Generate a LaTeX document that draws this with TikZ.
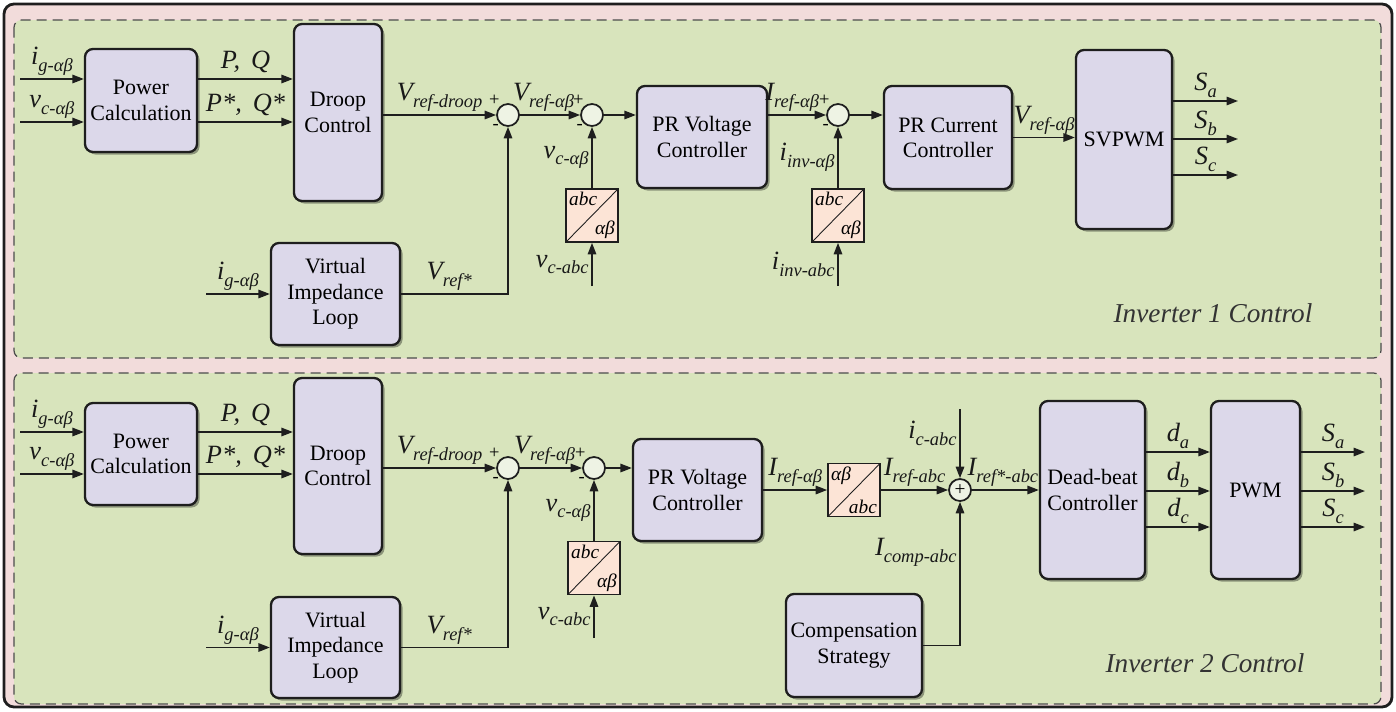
\documentclass[tikz,border=0pt]{standalone}
\usepackage{fontspec}
\setmainfont{Liberation Serif}
\usetikzlibrary{arrows.meta,shadows}

\definecolor{framebg}{HTML}{F2DCDB}
\definecolor{panelbg}{HTML}{D8E4BC}
\definecolor{blockbg}{HTML}{DCD8EA}
\definecolor{sumbg}{HTML}{EEF3E4}
\definecolor{convbg}{HTML}{FCE4D6}
\definecolor{wire}{HTML}{1E1E1E}

% signal name with a lowered subscript
\newcommand{\sigl}[2]{{\fontsize{15}{17}\selectfont\itshape #1}\raisebox{-3.8pt}{\fontsize{10.5}{12}\selectfont\itshape #2}}

\begin{document}
\begin{tikzpicture}[x=0.2mm, y=-0.2mm,
    blk/.style={draw=wire, line width=1.3pt, rounded corners=1.6mm, fill=blockbg, align=center,
        font=\fontsize{12.5}{14.4}\selectfont, inner sep=1pt,
        drop shadow={shadow xshift=0.5mm, shadow yshift=-0.5mm, opacity=0.35, fill=black}},
    sumnode/.style={circle, draw=wire, line width=1pt, fill=sumbg, minimum size=4.4mm, inner sep=0pt,
        font=\fontsize{11}{11}\selectfont},
    pmsign/.style={inner sep=0.3pt, font=\fontsize{10.5}{10}\selectfont},
    pm/.style={sumnode, label={[pmsign]130:+}, label={[pmsign]225:-}},
    convtxt/.style={inner sep=1.3pt, draw=none, fill=none, minimum width=0pt, minimum height=0pt,
        font=\fontsize{11}{12}\selectfont\itshape},
    conv/.style 2 args={draw=wire, line width=1pt, fill=convbg, minimum width=10.4mm,
        minimum height=10.6mm, inner sep=0pt,
        path picture={
            \draw[line width=0.5pt] (path picture bounding box.south west) -- (path picture bounding box.north east);
            \node[convtxt, anchor=north west] at (path picture bounding box.north west) {#1};
            \node[convtxt, anchor=south east] at (path picture bounding box.south east) {#2};
        }},
    sig/.style={draw=wire, line width=0.9pt, -{Triangle[length=2.3mm,width=1.7mm]}},
    lab/.style={inner sep=1.5pt, text=black!90},
    panel/.style={draw=black!70, line width=0.7pt, dash pattern=on 2mm off 1.2mm,
        rounded corners=1.5mm, fill=panelbg},
    tag/.style={font=\fontsize{15.5}{18}\selectfont\itshape, text=black!80}
]
    \useasboundingbox (0,0) rectangle (1396,711);
    \draw[wire, line width=1.6pt, fill=framebg, rounded corners=2mm] (4,4) rectangle (1392,707);
    \path[panel] (14,20) rectangle (1381,358);
    \path[panel] (14,373) rectangle (1381,704);

    % inverter 1
    \node[blk, minimum width=22.4mm, minimum height=20.6mm] (pc1) at (141,100.5) {Power\\Calculation};
    \node[blk, minimum width=17.6mm, minimum height=35.4mm] (droop1) at (338,112.5) {Droop\\Control};
    \node[blk, minimum width=25.8mm, minimum height=20.4mm] (vil1) at (335.5,294) {Virtual\\Impedance\\Loop};
    \node[pm] (s11) at (508,115) {};
    \node[pm] (s12) at (592,115) {};
    \node[conv={abc}{αβ}] (cv11) at (592,215.5) {};
    \node[blk, minimum width=26mm, minimum height=20.4mm] (prv1) at (702,137) {PR Voltage\\Controller};
    \node[pm] (s13) at (838,115) {};
    \node[conv={abc}{αβ}] (cv12) at (838,215.5) {};
    \node[blk, minimum width=25.6mm, minimum height=20.6mm] (prc1) at (948,137.5) {PR Current\\Controller};
    \node[blk, minimum width=19.2mm, minimum height=35.8mm] (svpwm) at (1124,139.5) {SVPWM};
    \node[tag] (tag1) at (1213,313) {Inverter 1 Control};

    \coordinate (ig1) at (20,79);
    \coordinate (vc1) at (20,122);
    \coordinate (ig1b) at (206,294);
    \coordinate (vca1) at (592,286);
    \coordinate (iia1) at (838,286);
    \coordinate (sa1) at (1238,101);
    \coordinate (sb1) at (1238,139);
    \coordinate (sc1) at (1238,175);

    \draw[sig] (ig1) -- node[lab, above]{\sigl{i}{g-αβ}} (ig1 -| pc1.west);
    \draw[sig] (vc1) -- node[lab, above]{\sigl{v}{c-αβ}} (vc1 -| pc1.west);
    \draw[sig] (ig1 -| pc1.east) -- node[lab, above]{\sigl{P,\, Q}{}} (ig1 -| droop1.west);
    \draw[sig] (vc1 -| pc1.east) -- node[lab, above]{\sigl{P*,\, Q*}{}} (vc1 -| droop1.west);
    \draw[sig] (s11 -| droop1.east) -- node[lab, above]{\sigl{V}{ref-droop}} (s11);
    \draw[sig] (s11) -- node[lab, above, xshift=-1.3mm]{\sigl{V}{ref-αβ}} (s12);
    \draw[sig] (s12) -- (s12 -| prv1.west);
    \draw[sig] (s13 -| prv1.east) -- node[lab, above, xshift=-1mm]{\sigl{I}{ref-αβ}} (s13);
    \draw[sig] (s13) -- (s13 -| prc1.west);
    \draw[sig] (prc1.east) -- node[lab, above]{\sigl{V}{ref-αβ}} (prc1.east -| svpwm.west);
    \draw[sig] (svpwm.east |- sa1) -- node[lab, above]{\sigl{S}{a}} (sa1);
    \draw[sig] (svpwm.east |- sb1) -- node[lab, above]{\sigl{S}{b}} (sb1);
    \draw[sig] (svpwm.east |- sc1) -- node[lab, above]{\sigl{S}{c}} (sc1);
    \draw[sig] (ig1b) -- node[lab, above]{\sigl{i}{g-αβ}} (vil1);
    \draw[sig] (vil1) -- node[lab, above, pos=0.45]{\sigl{V}{ref*}} (vil1 -| s11) -- (s11);
    \draw[sig] (vca1) -- node[lab, left]{\sigl{v}{c-abc}} (cv11);
    \draw[sig] (cv11) -- node[lab, left]{\sigl{v}{c-αβ}} (s12);
    \draw[sig] (iia1) -- node[lab, left]{\sigl{i}{inv-abc}} (cv12);
    \draw[sig] (cv12) -- node[lab, left]{\sigl{i}{inv-αβ}} (s13);

    % inverter 2
    \node[blk, minimum width=22.4mm, minimum height=20.4mm] (pc2) at (141,454) {Power\\Calculation};
    \node[blk, minimum width=17.6mm, minimum height=35.2mm] (droop2) at (338,466) {Droop\\Control};
    \node[blk, minimum width=25.8mm, minimum height=20.2mm] (vil2) at (335.5,647.5) {Virtual\\Impedance\\Loop};
    \node[pm] (s21) at (508,468) {};
    \node[pm] (s22) at (594,468) {};
    \node[conv={abc}{αβ}] (cv21) at (594,568) {};
    \node[blk, minimum width=25.8mm, minimum height=20.4mm] (prv2) at (697.5,490) {PR Voltage\\Controller};
    \node[conv={αβ}{abc}] (cv22) at (854,490) {};
    \node[sumnode] (s23) at (960,490) {+};
    \node[blk, minimum width=27.2mm, minimum height=20.6mm] (comp) at (854,645.5) {Compensation\\Strategy};
    \node[blk, minimum width=21mm, minimum height=35.6mm] (dead) at (1092.5,490) {Dead-beat\\Controller};
    \node[blk, minimum width=17.8mm, minimum height=35.6mm] (pwm) at (1255.5,490) {PWM};
    \node[tag] (tag2) at (1205,663) {Inverter 2 Control};

    \coordinate (ig2) at (20,432);
    \coordinate (vc2) at (20,474);
    \coordinate (ig2b) at (206,647.5);
    \coordinate (vca2) at (594,638);
    \coordinate (ic2) at (960,409);
    \coordinate (sa2) at (1365,452);
    \coordinate (sb2) at (1365,491);
    \coordinate (sc2) at (1365,527);

    \draw[sig] (ig2) -- node[lab, above]{\sigl{i}{g-αβ}} (ig2 -| pc2.west);
    \draw[sig] (vc2) -- node[lab, above]{\sigl{v}{c-αβ}} (vc2 -| pc2.west);
    \draw[sig] (ig2 -| pc2.east) -- node[lab, above]{\sigl{P,\, Q}{}} (ig2 -| droop2.west);
    \draw[sig] (vc2 -| pc2.east) -- node[lab, above]{\sigl{P*,\, Q*}{}} (vc2 -| droop2.west);
    \draw[sig] (s21 -| droop2.east) -- node[lab, above]{\sigl{V}{ref-droop}} (s21);
    \draw[sig] (s21) -- node[lab, above, xshift=-1.3mm]{\sigl{V}{ref-αβ}} (s22);
    \draw[sig] (s22) -- (s22 -| prv2.west);
    \draw[sig] (prv2) -- node[lab, above]{\sigl{I}{ref-αβ}} (cv22);
    \draw[sig] (cv22) -- node[lab, above]{\sigl{I}{ref-abc}} (s23);
    \draw[sig] (s23) -- node[lab, above, xshift=-0.5mm]{\sigl{I}{ref*-abc}} (dead);
    \draw[sig] (ic2) -- node[lab, left, pos=0.35]{\sigl{i}{c-abc}} (s23);
    \draw[sig] (comp) -- (comp -| s23) -- node[lab, left, pos=0.65]{\sigl{I}{comp-abc}} (s23);
    \draw[sig] (dead.east |- sa2) -- node[lab, above]{\sigl{d}{a}} (pwm.west |- sa2);
    \draw[sig] (dead.east |- sb2) -- node[lab, above]{\sigl{d}{b}} (pwm.west |- sb2);
    \draw[sig] (dead.east |- sc2) -- node[lab, above]{\sigl{d}{c}} (pwm.west |- sc2);
    \draw[sig] (pwm.east |- sa2) -- node[lab, above]{\sigl{S}{a}} (sa2);
    \draw[sig] (pwm.east |- sb2) -- node[lab, above]{\sigl{S}{b}} (sb2);
    \draw[sig] (pwm.east |- sc2) -- node[lab, above]{\sigl{S}{c}} (sc2);
    \draw[sig] (ig2b) -- node[lab, above]{\sigl{i}{g-αβ}} (vil2);
    \draw[sig] (vil2) -- node[lab, above, pos=0.45]{\sigl{V}{ref*}} (vil2 -| s21) -- (s21);
    \draw[sig] (vca2) -- node[lab, left]{\sigl{v}{c-abc}} (cv21);
    \draw[sig] (cv21) -- node[lab, left]{\sigl{v}{c-αβ}} (s22);
\end{tikzpicture}
\end{document}
